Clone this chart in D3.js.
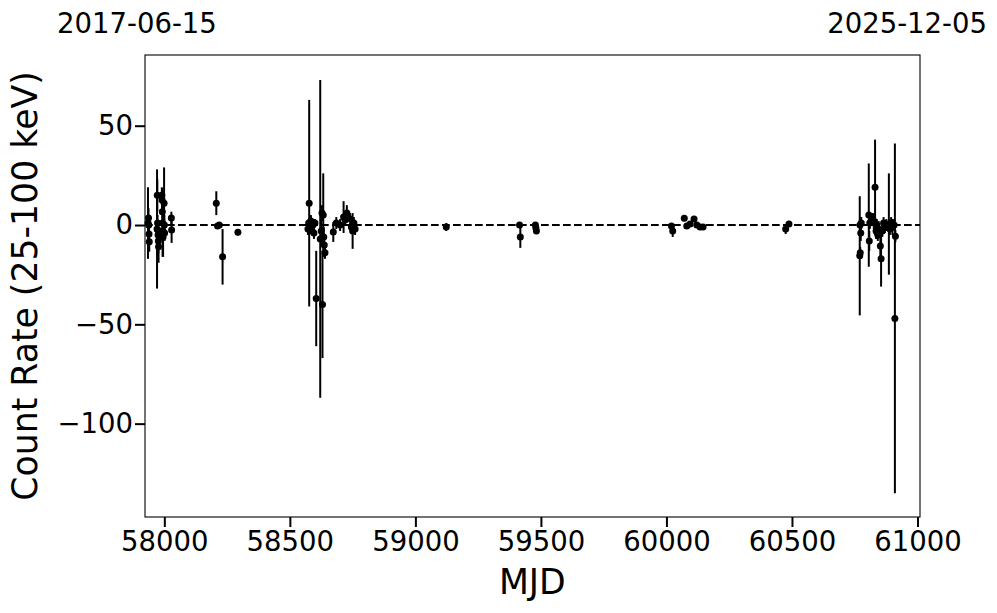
<!DOCTYPE html>
<html>
<head>
<meta charset="utf-8">
<script src="https://cdnjs.cloudflare.com/ajax/libs/d3/7.8.5/d3.min.js"></script>
<style>
    body { margin: 0; background: #fff; }
    svg text { font-family: "DejaVu Sans", sans-serif; fill: #000; }
</style>
</head>
<body>
<div id="chart"></div>
<script>
// light curve values
var mjd = [
    57935, 57937, 57938, 57939, 57940,
    57971, 57972, 57973, 57974, 57975, 57976, 57977,
    57990, 57991, 57992, 57993, 57994, 57995, 57999, 58000, 58001,
    58028, 58029,
    58207, 58212, 58219, 58232, 58293,
    58572, 58575, 58577, 58580, 58584, 58588, 58592, 58596, 58600,
    58605, 58621, 58625, 58628, 58630, 58633, 58635, 58637, 58640,
    58673, 58685, 58700, 58714, 58720, 58727, 58740, 58745, 58750, 58755, 58760,
    59123, 59415, 59418, 59478, 59480, 59482,
    60020, 60025, 60071, 60081, 60094, 60110, 60121, 60134, 60146,
    60475, 60488,
    60770, 60771, 60772, 60774, 60776,
    60806, 60808, 60810, 60820, 60826, 60831, 60835, 60838, 60842, 60845,
    60852, 60855, 60860, 60865, 60870, 60876,
    60886, 60890, 60895, 60900, 60907, 60910, 60912
];
var rate = [
    1, 3.5, 0, -4.5, -8.4,
    -2, 15, 1, -2.5, -5, -8, -11,
    15, 12.6, 6.7, 1, -3, -6, 11, 0, -4,
    3.5, -2.5,
    11, -0.5, 0, -16, -3.7,
    -2, 1, 11, -1, 2, -3, 0, -4, 1,
    -37, -7, -3, 6, -40, 5, -6, -10, -14,
    -3.5, 1, 0, 4, 2.5, 6, 3, -1, -3, 1, -2,
    -1, 0, -6, 0, -1.5, -3,
    -0.5, -3, 3.4, -0.5, 0.5, 3, 0, -1, -1,
    -2, 0.5,
    -15.5, 0, -14, -4, 1,
    5, -8, 1, 3, 2, 19, -3, 0, -5, -2,
    -10.6, -17, -3, 1, -1, 0,
    0.5, -2, 1, -1, 0, -47, -5.6
];
var rateErr = [
    18, 5, 3, 4, 5,
    30, 8, 4, 4, 5, 6, 8,
    4, 6, 5, 17, 5, 10, 18, 5, 4,
    3.2, 6.5,
    6, 1.5, 1.5, 14, 1.5,
    3, 2, 52, 2, 3, 2, 2, 3, 2,
    24, 80, 6, 4, 27, 21, 5, 4, 3,
    5, 3, 3, 8, 3, 4, 3, 3, 9, 3, 3,
    2, 1, 5.5, 1.5, 1.5, 1.5,
    1.5, 3, 1.5, 1.5, 1.5, 1.5, 1.5, 1.5, 1.5,
    2.5, 1,
    30, 4, 3, 4, 3,
    26, 5, 3, 3, 4, 24, 4, 3, 3, 4,
    6, 14, 3, 3, 3, 3,
    25.5, 3, 3, 4, 3, 88, 3
];
var xTicks = [58000, 58500, 59000, 59500, 60000, 60500, 61000];
var yTicks = [50, 0, -50, -100];
var dateLeft = "2017-06-15";
var dateRight = "2025-12-05";

var width = 997, height = 613;
var margin = {top: 55, right: 77, bottom: 96, left: 145};
var w = width - margin.left - margin.right,
    h = height - margin.top - margin.bottom;

var svg = d3.select("#chart").append("svg")
    .attr("width", width)
    .attr("height", height);

var g = svg.append("g")
    .attr("transform", "translate(" + margin.left + "," + margin.top + ")");

var x = d3.scaleLinear().domain([57923, 61010]).range([0, w]);
var y = d3.scaleLinear().domain([-147, 85.6]).range([h, 0]);

var points = mjd.map(function(d, i) {
    return {t: d, r: rate[i], e: rateErr[i]};
});

// zero line
g.append("line")
    .attr("x1", 0).attr("x2", w)
    .attr("y1", y(0)).attr("y2", y(0))
    .attr("stroke", "#000")
    .attr("stroke-width", 2)
    .attr("stroke-dasharray", "7.7,3.3");

// error bars
g.selectAll(".err")
    .data(points)
    .enter().append("line")
    .attr("class", "err")
    .attr("x1", function(d) { return x(d.t); })
    .attr("x2", function(d) { return x(d.t); })
    .attr("y1", function(d) { return y(d.r + d.e); })
    .attr("y2", function(d) { return y(d.r - d.e); })
    .attr("stroke", "#000")
    .attr("stroke-width", 2);

g.selectAll(".pt")
    .data(points)
    .enter().append("circle")
    .attr("class", "pt")
    .attr("cx", function(d) { return x(d.t); })
    .attr("cy", function(d) { return y(d.r); })
    .attr("r", 3.5)
    .attr("fill", "#000");

// frame
g.append("rect")
    .attr("width", w).attr("height", h)
    .attr("fill", "none")
    .attr("stroke", "#000")
    .attr("stroke-width", 1.1);

var xAxis = g.append("g")
    .attr("transform", "translate(0," + h + ")")
    .call(d3.axisBottom(x).tickValues(xTicks).tickSize(10).tickPadding(4).tickFormat(d3.format("d")));

var yAxis = g.append("g")
    .call(d3.axisLeft(y).tickValues(yTicks).tickSize(10).tickPadding(2).tickFormat(d3.format("d")));

[xAxis, yAxis].forEach(function(a) {
    a.select(".domain").remove();
    a.selectAll(".tick line").attr("stroke", "#000").attr("stroke-width", 2);
    a.selectAll(".tick text")
        .style("font-size", "27.5px")
        .style("font-family", "DejaVu Sans, sans-serif");
});

svg.append("text")
    .attr("x", margin.left + x(59466))
    .attr("y", 594)
    .attr("text-anchor", "middle")
    .style("font-size", "34.7px")
    .text("MJD");

svg.append("text")
    .attr("transform", "translate(37," + (margin.top + h / 2) + ") rotate(-90)")
    .attr("text-anchor", "middle")
    .style("font-size", "34.7px")
    .text("Count Rate (25-100 keV)");

svg.append("text")
    .attr("x", 57)
    .attr("y", 33)
    .style("font-size", "27.5px")
    .text(dateLeft);

svg.append("text")
    .attr("x", 987)
    .attr("y", 33)
    .attr("text-anchor", "end")
    .style("font-size", "27.5px")
    .text(dateRight);
</script>
</body>
</html>
